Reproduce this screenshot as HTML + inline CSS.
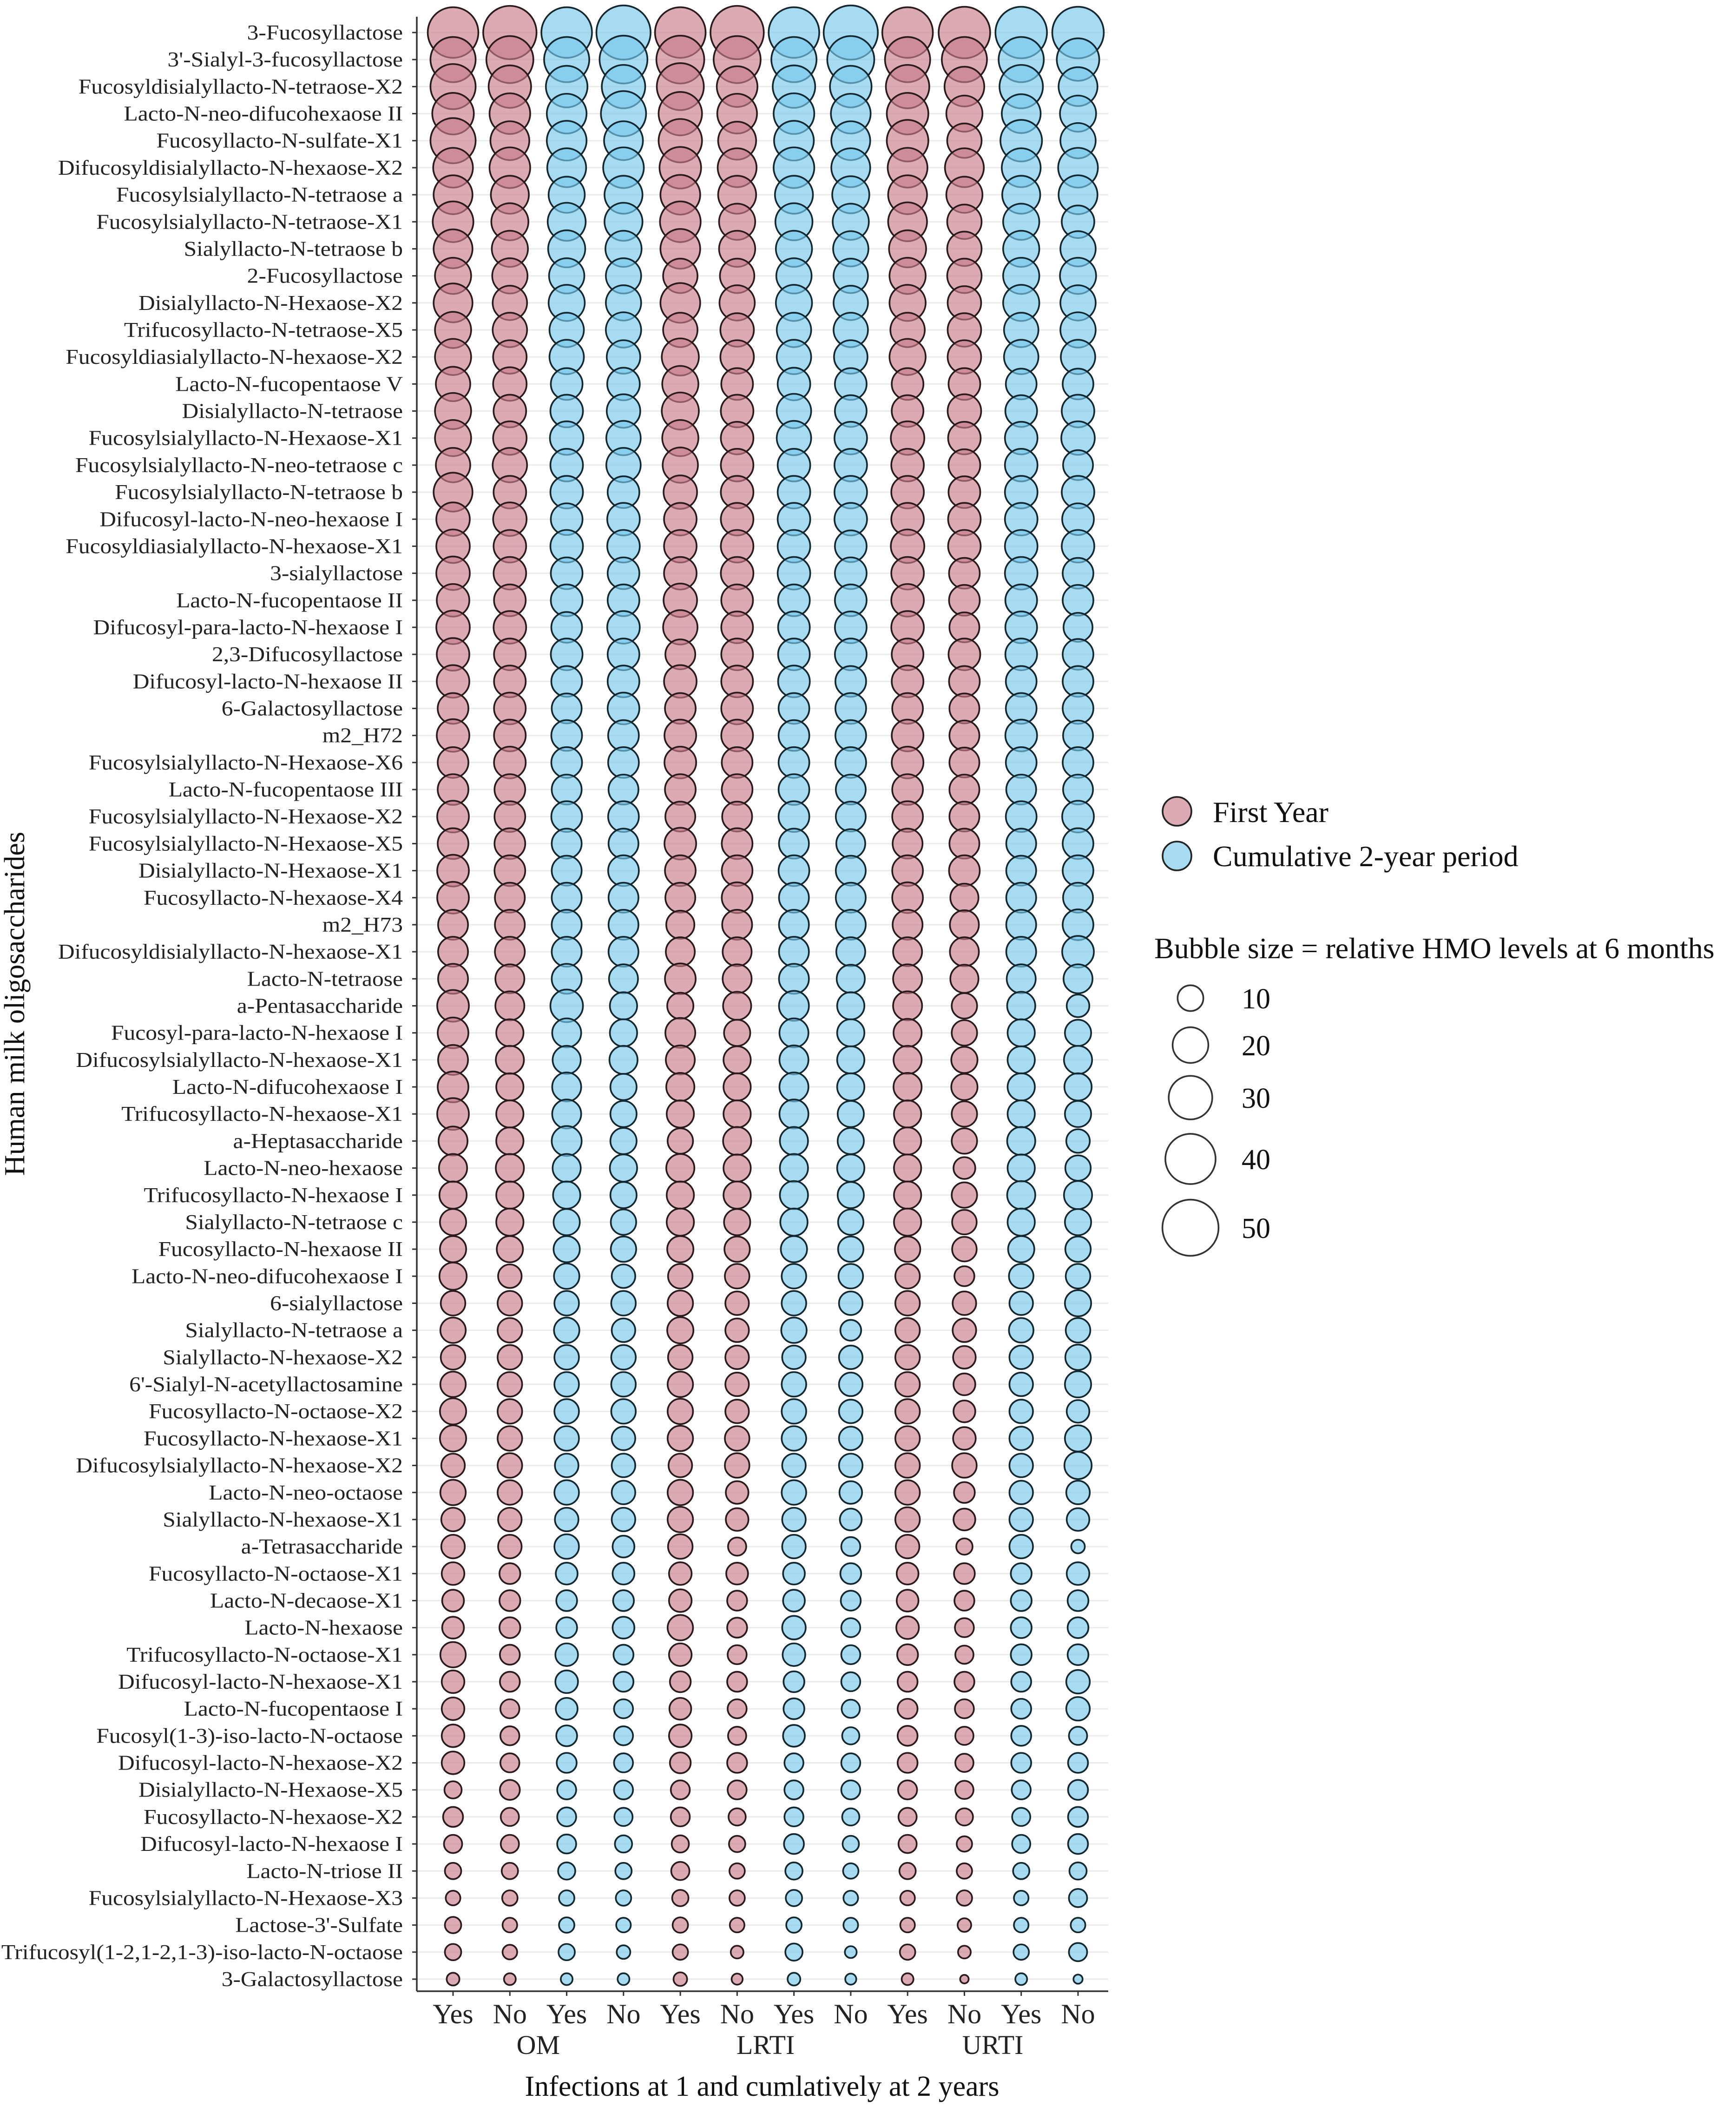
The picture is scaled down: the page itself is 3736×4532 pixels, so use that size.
<!DOCTYPE html>
<html><head><meta charset="utf-8">
<style>
html,body{margin:0;padding:0;background:#fff;}
svg{display:block;font-family:"Liberation Serif","Times New Roman",serif;}
</style></head>
<body>
<svg id="chart" xmlns="http://www.w3.org/2000/svg" width="3736" height="4532" viewBox="0 0 3736 4532">
<rect x="0" y="0" width="3736" height="4532" fill="#fff"/>
<g id="grid"></g>
<g id="bubbles"></g>
<g id="axes"></g>
<g id="legend"></g>
</svg>
<script>
const hmoNames = ["3-Fucosyllactose","3'-Sialyl-3-fucosyllactose","Fucosyldisialyllacto-N-tetraose-X2","Lacto-N-neo-difucohexaose II","Fucosyllacto-N-sulfate-X1","Difucosyldisialyllacto-N-hexaose-X2","Fucosylsialyllacto-N-tetraose a","Fucosylsialyllacto-N-tetraose-X1","Sialyllacto-N-tetraose b","2-Fucosyllactose","Disialyllacto-N-Hexaose-X2","Trifucosyllacto-N-tetraose-X5","Fucosyldiasialyllacto-N-hexaose-X2","Lacto-N-fucopentaose V","Disialyllacto-N-tetraose","Fucosylsialyllacto-N-Hexaose-X1","Fucosylsialyllacto-N-neo-tetraose c","Fucosylsialyllacto-N-tetraose b","Difucosyl-lacto-N-neo-hexaose I","Fucosyldiasialyllacto-N-hexaose-X1","3-sialyllactose","Lacto-N-fucopentaose II","Difucosyl-para-lacto-N-hexaose I","2,3-Difucosyllactose","Difucosyl-lacto-N-hexaose II","6-Galactosyllactose","m2_H72","Fucosylsialyllacto-N-Hexaose-X6","Lacto-N-fucopentaose III","Fucosylsialyllacto-N-Hexaose-X2","Fucosylsialyllacto-N-Hexaose-X5","Disialyllacto-N-Hexaose-X1","Fucosyllacto-N-hexaose-X4","m2_H73","Difucosyldisialyllacto-N-hexaose-X1","Lacto-N-tetraose","a-Pentasaccharide","Fucosyl-para-lacto-N-hexaose I","Difucosylsialyllacto-N-hexaose-X1","Lacto-N-difucohexaose I","Trifucosyllacto-N-hexaose-X1","a-Heptasaccharide","Lacto-N-neo-hexaose","Trifucosyllacto-N-hexaose I","Sialyllacto-N-tetraose c","Fucosyllacto-N-hexaose II","Lacto-N-neo-difucohexaose I","6-sialyllactose","Sialyllacto-N-tetraose a","Sialyllacto-N-hexaose-X2","6'-Sialyl-N-acetyllactosamine","Fucosyllacto-N-octaose-X2","Fucosyllacto-N-hexaose-X1","Difucosylsialyllacto-N-hexaose-X2","Lacto-N-neo-octaose","Sialyllacto-N-hexaose-X1","a-Tetrasaccharide","Fucosyllacto-N-octaose-X1","Lacto-N-decaose-X1","Lacto-N-hexaose","Trifucosyllacto-N-octaose-X1","Difucosyl-lacto-N-hexaose-X1","Lacto-N-fucopentaose I","Fucosyl(1-3)-iso-lacto-N-octaose","Difucosyl-lacto-N-hexaose-X2","Disialyllacto-N-Hexaose-X5","Fucosyllacto-N-hexaose-X2","Difucosyl-lacto-N-hexaose I","Lacto-N-triose II","Fucosylsialyllacto-N-Hexaose-X3","Lactose-3'-Sulfate","Trifucosyl(1-2,1-2,1-3)-iso-lacto-N-octaose","3-Galactosyllactose"];
const xTickLabels = ["Yes","No","Yes","No","Yes","No","Yes","No","Yes","No","Yes","No"];
const infectionGroups = ["OM","LRTI","URTI"];
const periodOfColumn = ["First Year","First Year","Cumulative","Cumulative","First Year","First Year","Cumulative","Cumulative","First Year","First Year","Cumulative","Cumulative"];
const sizeLegendValues = [10,20,30,40,50];
// rows = HMOs, columns = OM Yes/No FY, OM Yes/No Cum, LRTI ..., URTI ...
const hmoLevels = [
[40.6,45.1,40.6,46.6,40.6,45.1,40.6,46.6,40.6,42.1,42.1,42.1],
[32.3,35.0,32.3,36.3,36.3,35.0,32.3,35.0,32.3,32.3,32.3,28.5],
[32.3,28.5,27.3,29.8,35.0,26.1,28.5,27.3,29.8,24.9,29.8,23.8],
[27.3,26.1,24.9,32.3,29.8,24.9,26.1,24.9,27.3,20.5,23.8,20.5],
[32.3,23.8,24.9,23.8,29.8,22.7,24.9,23.8,27.3,18.5,27.3,19.5],
[24.9,26.1,23.8,26.1,27.3,23.8,26.1,23.8,24.9,23.8,23.8,24.9],
[23.8,22.7,20.5,22.7,24.9,22.7,22.7,21.6,23.8,20.5,22.7,23.8],
[26.1,21.6,22.7,22.7,26.1,20.5,21.6,20.5,23.8,18.5,20.5,16.5],
[23.8,20.5,21.6,20.5,24.9,20.5,20.5,19.5,21.6,18.5,20.5,19.5],
[20.5,19.5,19.5,19.5,18.5,18.5,19.5,18.5,20.5,18.5,20.5,20.5],
[23.8,18.5,20.5,19.5,24.9,19.5,20.5,18.5,20.5,17.5,20.5,19.5],
[20.5,18.5,18.5,19.5,18.5,17.5,18.5,18.5,18.5,17.5,18.5,19.5],
[20.5,17.5,18.5,17.5,21.6,17.5,18.5,17.5,20.5,17.5,18.5,18.5],
[18.5,17.5,15.6,16.5,20.5,15.6,16.5,15.6,15.6,15.6,14.6,14.6],
[20.5,16.5,16.5,17.5,21.6,16.5,18.5,15.6,15.6,17.5,15.6,16.5],
[20.5,17.5,17.5,18.5,20.5,16.5,18.5,16.5,17.5,16.5,16.5,17.5],
[18.5,18.5,16.5,18.5,19.5,16.5,16.5,16.5,16.5,15.6,16.5,13.8],
[23.8,16.5,16.5,15.6,17.5,16.5,16.5,16.5,16.5,15.6,16.5,16.5],
[17.5,17.5,15.6,16.5,16.5,16.5,16.5,16.5,16.5,16.5,16.5,15.6],
[17.5,16.5,16.5,16.5,16.5,16.5,16.5,15.6,17.5,16.5,16.5,16.5],
[17.5,16.5,15.6,15.6,16.5,16.5,16.5,15.6,16.5,14.6,16.5,14.6],
[16.5,15.6,15.6,15.6,17.5,15.6,15.6,15.6,16.5,14.6,15.6,14.6],
[17.5,16.5,14.6,16.5,18.5,15.6,15.6,15.6,16.5,13.8,15.6,12.9],
[16.5,15.6,15.6,15.6,13.8,15.6,15.6,15.6,15.6,15.6,15.6,14.6],
[16.5,15.6,14.6,15.6,16.5,15.6,15.6,14.6,15.6,14.6,14.6,14.6],
[14.6,15.6,13.8,15.6,14.6,15.6,14.6,14.6,14.6,13.8,14.6,14.6],
[16.5,15.6,14.6,14.6,15.6,15.6,14.6,14.6,15.6,13.8,15.6,13.8],
[14.6,15.6,14.6,14.6,15.6,14.6,14.6,14.6,15.6,13.8,14.6,14.6],
[14.6,14.6,13.8,13.8,14.6,14.6,14.6,13.8,14.6,13.8,13.8,13.8],
[15.6,14.6,14.6,14.6,13.8,13.8,14.6,13.8,14.6,13.8,14.6,15.6],
[14.6,14.6,13.8,13.8,15.6,14.6,13.8,12.9,13.8,13.8,13.8,14.6],
[15.6,14.6,13.8,14.6,14.6,14.6,14.6,13.8,14.6,14.6,13.8,14.6],
[15.6,13.8,13.8,13.8,13.8,14.6,13.8,13.8,14.6,12.1,13.8,13.8],
[13.8,13.8,13.8,13.8,12.1,13.8,13.8,13.8,13.8,12.9,13.8,14.6],
[13.8,13.8,13.8,13.8,12.9,12.9,13.8,12.9,12.9,12.9,13.8,15.6],
[13.8,12.9,13.8,12.9,14.6,12.9,13.8,12.1,12.9,12.1,12.9,12.9],
[15.6,12.9,16.5,11.3,10.4,12.1,13.8,11.3,12.9,9.7,12.1,7.5],
[14.6,11.3,12.9,11.3,13.8,10.4,12.9,11.3,12.1,9.7,11.3,10.4],
[13.8,12.1,12.1,12.1,12.9,11.3,12.9,11.3,12.1,10.4,11.3,12.1],
[14.6,11.3,12.9,10.4,12.1,11.3,12.9,11.3,12.1,10.4,11.3,11.3],
[15.6,11.3,12.9,10.4,11.3,11.3,12.9,10.4,11.3,9.7,11.3,10.4],
[12.9,11.3,13.8,10.4,9.7,12.1,12.1,10.4,11.3,9.7,12.1,8.2],
[12.1,12.1,12.1,11.3,12.1,11.3,12.1,11.3,11.3,6.9,11.3,9.7],
[11.3,11.3,11.3,10.4,11.3,11.3,12.1,10.4,11.3,9.7,12.1,12.1],
[10.4,11.3,10.4,9.7,11.3,10.4,11.3,9.7,11.3,9.0,11.3,10.4],
[10.4,10.4,10.4,9.7,10.4,9.7,10.4,9.7,9.7,9.0,10.4,9.7],
[11.3,8.2,9.7,8.2,9.0,9.0,9.0,9.0,9.0,5.6,9.0,9.0],
[9.0,9.0,9.0,9.0,9.7,8.2,9.0,8.2,9.0,8.2,8.2,10.4],
[9.7,9.0,9.7,8.2,10.4,8.2,9.7,6.2,9.0,8.2,9.0,9.0],
[9.0,9.0,9.0,9.0,9.0,8.2,8.2,8.2,9.0,7.5,8.2,9.7],
[9.7,9.0,9.0,9.0,9.7,8.2,9.0,8.2,9.0,6.9,8.2,10.4],
[10.4,9.0,9.0,9.0,9.7,8.2,9.0,8.2,9.0,6.9,8.2,7.5],
[10.4,9.0,9.0,8.2,9.7,9.0,9.0,8.2,9.0,7.5,8.2,10.4],
[8.2,9.0,8.2,8.2,8.2,9.0,8.2,8.2,9.0,9.0,8.2,11.3],
[9.7,9.0,9.0,8.2,9.7,7.5,9.0,7.5,9.0,6.2,8.2,8.2],
[8.2,8.2,8.2,8.2,9.7,7.5,8.2,6.9,9.0,6.9,8.2,7.5],
[8.2,8.2,9.0,6.9,9.0,4.5,8.2,5.0,8.2,3.4,8.2,2.0],
[7.5,6.2,6.9,6.9,7.5,6.9,6.9,6.2,6.9,6.2,6.2,7.5],
[6.9,6.2,6.2,6.2,7.5,5.6,6.9,5.6,6.9,5.6,6.2,6.2],
[6.9,6.2,6.2,6.9,9.7,5.6,8.2,5.0,7.5,5.0,6.2,6.2],
[9.7,5.6,7.5,5.6,7.5,5.0,7.5,5.0,6.2,4.5,6.2,6.2],
[7.5,5.6,7.5,5.6,6.2,5.6,6.2,5.0,5.6,5.6,5.6,8.2],
[7.5,5.0,6.9,5.0,6.9,5.0,6.2,4.5,5.6,5.0,5.6,8.2],
[7.5,5.0,6.2,5.0,7.5,4.5,6.9,3.9,5.6,4.5,5.6,4.5],
[7.5,5.0,5.6,5.0,6.2,5.6,5.0,5.0,5.6,4.5,5.6,5.6],
[3.9,5.6,5.0,5.0,5.0,5.0,5.0,5.0,5.0,4.5,5.0,5.6],
[5.6,4.5,5.0,4.5,5.0,3.9,5.0,3.9,4.5,3.9,4.5,5.6],
[4.5,4.5,5.0,3.9,3.9,3.4,5.6,3.4,4.5,2.9,4.5,5.6],
[3.4,3.4,3.9,3.4,4.5,2.9,3.9,2.9,3.4,2.9,3.4,3.9],
[2.5,2.9,2.9,2.9,3.4,2.9,3.4,2.5,2.5,2.9,2.5,4.5],
[3.4,2.5,2.9,2.5,2.9,2.5,2.9,2.5,2.5,2.0,2.5,2.5],
[3.4,2.5,3.4,2.0,2.9,1.6,3.9,1.2,2.9,1.6,2.9,4.5],
[1.6,1.2,1.2,1.2,2.0,0.9,1.6,0.9,1.2,0.0,1.2,0.2]
];

const NS = "http://www.w3.org/2000/svg";
function mk(tag, attrs, parent){
  const e = document.createElementNS(NS, tag);
  for (const k in attrs) e.setAttribute(k, attrs[k]);
  parent.appendChild(e);
  return e;
}
const FILL = {"First Year":"rgb(200,125,138)","Cumulative":"rgb(120,200,235)"};
const STROKE = {"First Year":"#2a1a1c","Cumulative":"#14262e"};
const axL = 897, axB = 4285, panelR = 2385, panelT = 36;
const y0 = 70, y1 = 4259;
const x0 = 975, x1 = 2320;
function yScale(i){ return y0 + (y1 - y0) * i / (hmoNames.length - 1); }
function xScale(j){ return x0 + (x1 - x0) * j / (xTickLabels.length - 1); }
function rScale(v){ return Math.sqrt(Math.max(0, 120 + 75 * v)); }

const grid = document.getElementById('grid');
const bub = document.getElementById('bubbles');
const axes = document.getElementById('axes');
const legend = document.getElementById('legend');

hmoNames.forEach((name, i) => {
  const y = yScale(i);
  const g = mk('line', {x1: axL, x2: panelR, y1: y, y2: y, stroke: '#ebebeb', 'stroke-width': 3}, grid);
  
  
  const t = mk('line', {x1: axL - 10, x2: axL, y1: y, y2: y, stroke: '#333', 'stroke-width': 3}, axes);
  
  
  const lab = mk('text', {x: 0, y: 0, 'text-anchor': 'end', 'font-size': 45, fill: '#222',
    transform: 'translate(' + (axL - 30) + ',' + (y + 15) + ') scale(1.1,1)'}, axes);
  lab.textContent = name;
  
  
});

hmoLevels.forEach((row, i) => {
  row.forEach((v, j) => {
    const p = periodOfColumn[j];
    const c = mk('circle', {cx: xScale(j), cy: yScale(i), r: rScale(v) - 1.8,
      fill: FILL[p], 'fill-opacity': 0.65, stroke: STROKE[p], 'stroke-width': 3.6}, bub);
    
    
  });
});

let a = mk('line', {x1: axL, x2: axL, y1: panelT, y2: axB, stroke: '#333', 'stroke-width': 3.5}, axes);


a = mk('line', {x1: axL, x2: panelR, y1: axB, y2: axB, stroke: '#333', 'stroke-width': 3.5}, axes);



xTickLabels.forEach((lab, j) => {
  const x = xScale(j);
  const t = mk('line', {x1: x, x2: x, y1: axB, y2: axB + 10, stroke: '#333', 'stroke-width': 3}, axes);
  
  
  const tx = mk('text', {x: x, y: 4354, 'text-anchor': 'middle', 'font-size': 60, fill: '#222'}, axes);
  tx.textContent = lab;
  
  
});
infectionGroups.forEach((g, k) => {
  const x = (xScale(4 * k + 1) + xScale(4 * k + 2)) / 2;
  const tx = mk('text', {x: x, y: 4402 + 18, 'text-anchor': 'middle', 'font-size': 58, fill: '#222'}, axes);
  tx.textContent = g;
  
  
});
let tt = mk('text', {x: 1640, y: 4490 + 20, 'text-anchor': 'middle', 'font-size': 62, fill: '#111'}, axes);
tt.textContent = 'Infections at 1 and cumlatively at 2 years';


tt = mk('text', {x: 0, y: 0, 'text-anchor': 'middle', 'font-size': 62, fill: '#111', transform: 'translate(52,2160) rotate(-90)'}, axes);
tt.textContent = 'Human milk oligosaccharides';



const colourEntries = [["First Year","First Year",1746,1769],["Cumulative","Cumulative 2-year period",1842,1864]];
colourEntries.forEach(e => {
  const c = mk('circle', {cx: 2533, cy: e[2], r: 31, fill: FILL[e[0]], 'fill-opacity': 0.65, stroke: '#222', 'stroke-width': 3.6}, legend);
  
  
  const t = mk('text', {x: 2610, y: e[3], 'font-size': 64, fill: '#111'}, legend);
  t.textContent = e[1];
  
  
});
let lt = mk('text', {x: 2484, y: 2062, 'font-size': 64, fill: '#111'}, legend);
lt.textContent = 'Bubble size = relative HMO levels at 6 months';


const sizeLegendY = [2148,2249,2362,2494,2642];
sizeLegendValues.forEach((v, k) => {
  const c = mk('circle', {cx: 2562, cy: sizeLegendY[k], r: rScale(v) - 1.8, fill: 'none', stroke: '#333', 'stroke-width': 3.6}, legend);
  
  
  const t = mk('text', {x: 2672, y: sizeLegendY[k] + 22, 'font-size': 62, fill: '#111'}, legend);
  t.textContent = String(v);
  
  
});
</script>
</body></html>
